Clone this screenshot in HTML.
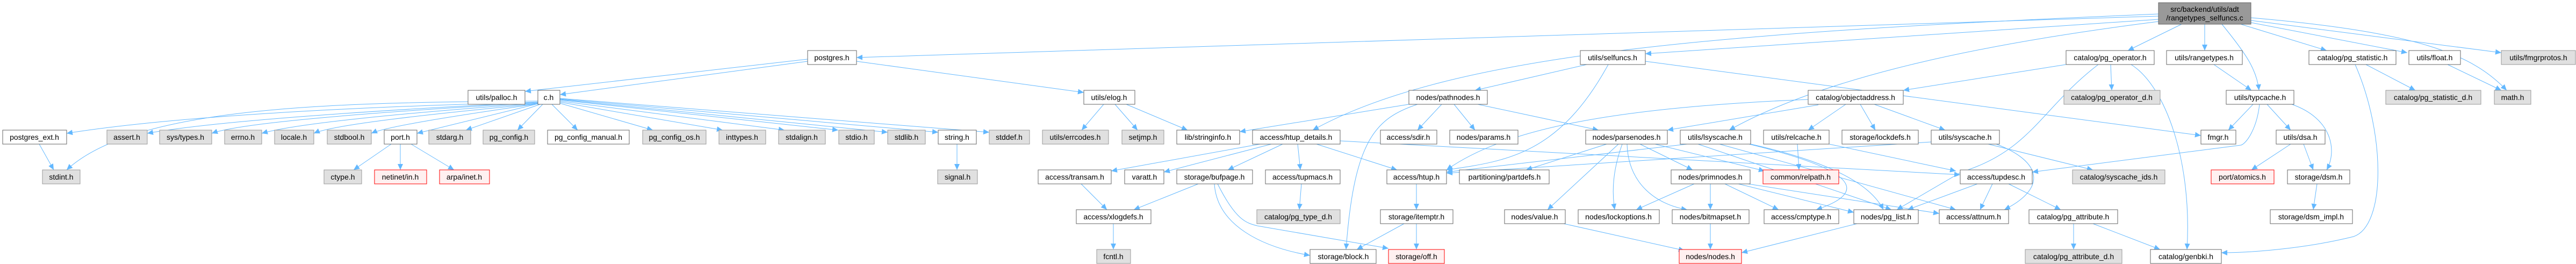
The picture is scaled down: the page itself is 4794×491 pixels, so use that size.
<!DOCTYPE html>
<html><head><meta charset="utf-8"><style>
html,body{margin:0;padding:0;background:#fff;}
svg{display:block;}
text{font-family:"Liberation Sans",sans-serif;font-size:14px;fill:#000;text-anchor:middle;}
.w{fill:#fff;stroke:#666;stroke-width:1;}
.g{fill:#e0e0e0;stroke:#999;stroke-width:1;}
.r{fill:#fff0f0;stroke:#f00;stroke-width:1;}
.e{fill:none;stroke:#63b8ff;stroke-width:1;marker-end:url(#a);}
</style></head><body>
<svg width="4794" height="491" viewBox="0 0 4794 491" xmlns="http://www.w3.org/2000/svg">
<defs><marker id="a" markerUnits="userSpaceOnUse" markerWidth="12" markerHeight="10" refX="11" refY="5" orient="auto"><path d="M0,0 L11,5 L0,10 z" fill="#63b8ff"/></marker></defs>
<g>
<path class="e" d="M4017,30 C3000,60 2200,90 1594,107"/>
<path class="e" d="M1503,110 L977,170"/>
<path class="e" d="M1503,114 L1042,176"/>
<path class="e" d="M1594,114 L2017,172"/>
<path class="e" d="M1001,188 C600,190 250,200 124,316"/>
<path class="e" d="M1001,190 C600,200 300,220 124,248"/>
<path class="e" d="M1001,190 C700,205 400,225 274,248"/>
<path class="e" d="M1001,191 C700,208 450,228 394,248"/>
<path class="e" d="M1001,192 C750,210 550,230 487,248"/>
<path class="e" d="M1001,193 C800,212 620,232 584,248"/>
<path class="e" d="M1001,193 C850,215 720,235 691,248"/>
<path class="e" d="M1001,193 L776,248"/>
<path class="e" d="M1005,194 L867,242"/>
<path class="e" d="M1010,194 L963,242"/>
<path class="e" d="M1027,194 L1075,242"/>
<path class="e" d="M1042,192 L1215,242"/>
<path class="e" d="M1042,190 L1345,242"/>
<path class="e" d="M1042,188 L1460,242"/>
<path class="e" d="M1042,186 L1560,242"/>
<path class="e" d="M1042,185 L1652,246"/>
<path class="e" d="M1042,184 L1746,246"/>
<path class="e" d="M1042,183 L1841,246"/>
<path class="e" d="M73,268 L100,316"/>
<path class="e" d="M728,268 L658,316"/>
<path class="e" d="M745,268 L745,316"/>
<path class="e" d="M765,268 L845,316"/>
<path class="e" d="M1781,268 L1781,316"/>
<path class="e" d="M2054,194 L2013,242"/>
<path class="e" d="M2075,194 L2117,242"/>
<path class="e" d="M2096,194 L2210,242"/>
<path class="e" d="M4017,26 C3200,60 2700,100 2443,242"/>
<path class="e" d="M2345,268 L2068,318"/>
<path class="e" d="M2366,268 L2166,320"/>
<path class="e" d="M2387,268 L2285,316"/>
<path class="e" d="M2415,268 L2420,316"/>
<path class="e" d="M2450,268 L2600,316"/>
<path class="e" d="M2494,262 L3648,325"/>
<path class="e" d="M2622,194 L2307,245"/>
<path class="e" d="M2012,342 L2060,390"/>
<path class="e" d="M2230,342 L2110,390"/>
<path class="e" d="M2072,416 L2072,464"/>
<path class="e" d="M2260,342 C2265,420 2350,460 2438,475"/>
<path class="e" d="M2266,342 C2300,410 2320,415 2340,420 L2584,462"/>
<path class="e" d="M2422,342 L2418,390"/>
<path class="e" d="M2636,342 L2636,390"/>
<path class="e" d="M2613,416 L2525,464"/>
<path class="e" d="M2636,416 L2636,464"/>
<path class="e" d="M4017,36 L3062,100"/>
<path class="e" d="M2953,120 L2745,168"/>
<path class="e" d="M2993,120 C2900,290 2800,300 2692,316"/>
<path class="e" d="M3062,114 L4096,252"/>
<path class="e" d="M2638,194 C2560,220 2520,260 2505,464"/>
<path class="e" d="M2683,194 L2638,242"/>
<path class="e" d="M2706,194 L2745,242"/>
<path class="e" d="M2750,194 L2975,242"/>
<path class="e" d="M3365,185 C3000,200 2800,240 2692,316"/>
<path class="e" d="M3384,195 L3103,242"/>
<path class="e" d="M4017,40 C3700,80 3400,140 3218,242"/>
<path class="e" d="M2990,268 L2840,316"/>
<path class="e" d="M3012,268 L2880,390"/>
<path class="e" d="M3019,268 C3000,320 3000,360 3005,390"/>
<path class="e" d="M3028,268 C3030,340 3080,380 3140,390"/>
<path class="e" d="M3052,268 L3150,316"/>
<path class="e" d="M3080,268 L3284,318"/>
<path class="e" d="M3140,268 L2692,320"/>
<path class="e" d="M3160,268 L3520,390"/>
<path class="e" d="M3200,268 L3640,390"/>
<path class="e" d="M3153,342 L3045,390"/>
<path class="e" d="M3183,342 L3183,390"/>
<path class="e" d="M3210,342 L3310,390"/>
<path class="e" d="M3235,342 L3450,395"/>
<path class="e" d="M3240,340 L3609,397"/>
<path class="e" d="M2910,416 L3135,466"/>
<path class="e" d="M3183,416 L3183,464"/>
<path class="e" d="M3456,416 L3241,470"/>
<path class="e" d="M4060,45 L3960,94"/>
<path class="e" d="M3845,120 L3542,168"/>
<path class="e" d="M3928,120 L3930,168"/>
<path class="e" d="M3905,120 C3800,200 3780,280 3650,320 L3530,390"/>
<path class="e" d="M3966,120 C4030,160 4080,300 4070,464"/>
<path class="e" d="M3435,194 L3365,242"/>
<path class="e" d="M3462,194 L3490,242"/>
<path class="e" d="M3488,194 L3620,242"/>
<path class="e" d="M3345,268 L3348,316"/>
<path class="e" d="M3404,268 L3640,318"/>
<path class="e" d="M3258,268 C3400,300 3480,340 3505,390"/>
<path class="e" d="M3255,268 C3470,320 3470,360 3380,390"/>
<path class="e" d="M3700,268 L3895,316"/>
<path class="e" d="M3715,268 C3800,300 3810,350 3730,390"/>
<path class="e" d="M3594,264 L2692,322"/>
<path class="e" d="M3680,342 L3550,390"/>
<path class="e" d="M3708,342 L3685,390"/>
<path class="e" d="M3738,342 L3835,390"/>
<path class="e" d="M3859,416 L3859,464"/>
<path class="e" d="M3895,416 L4020,464"/>
<path class="e" d="M4103,45 L4103,94"/>
<path class="e" d="M4120,120 L4190,168"/>
<path class="e" d="M4135,45 C4180,100 4200,130 4204,168"/>
<path class="e" d="M4193,194 L4147,242"/>
<path class="e" d="M4219,194 L4263,242"/>
<path class="e" d="M4265,194 C4340,220 4350,280 4330,316"/>
<path class="e" d="M4205,194 C4200,240 4180,268 4170,270 L3782,320"/>
<path class="e" d="M4263,268 L4190,316"/>
<path class="e" d="M4287,268 L4305,316"/>
<path class="e" d="M4312,342 L4305,390"/>
<path class="e" d="M4170,45 L4330,94"/>
<path class="e" d="M4403,120 L4495,168"/>
<path class="e" d="M4383,120 C4440,250 4440,420 4380,440 C4300,460 4200,470 4134,470"/>
<path class="e" d="M4189,42 L4480,98"/>
<path class="e" d="M4555,120 L4655,168"/>
<path class="e" d="M4189,33 C4500,60 4600,100 4665,168"/>
<path class="e" d="M4189,38 L4655,98"/>
</g>
<g>
<rect x="4017" y="5" width="172" height="40" fill="#999" stroke="#666"/>
<text x="4103" y="22">src/backend/utils/adt</text><text x="4103" y="38">/rangetypes_selfuncs.c</text>
<rect class="w" x="1503" y="94" width="91" height="26"/><text x="1548" y="112">postgres.h</text>
<rect class="w" x="2941" y="94" width="121" height="26"/><text x="3001" y="112">utils/selfuncs.h</text>
<rect class="w" x="3845" y="94" width="164" height="26"/><text x="3927" y="112">catalog/pg_operator.h</text>
<rect class="w" x="4032" y="94" width="141" height="26"/><text x="4102" y="112">utils/rangetypes.h</text>
<rect class="w" x="4297" y="94" width="162" height="26"/><text x="4378" y="112">catalog/pg_statistic.h</text>
<rect class="w" x="4483" y="94" width="96" height="26"/><text x="4531" y="112">utils/float.h</text>
<rect class="g" x="4655" y="94" width="138" height="26"/><text x="4724" y="112">utils/fmgrprotos.h</text>
<rect class="w" x="871" y="168" width="106" height="26"/><text x="924" y="186">utils/palloc.h</text>
<rect class="w" x="1001" y="168" width="41" height="26"/><text x="1021" y="186">c.h</text>
<rect class="w" x="2017" y="168" width="95" height="26"/><text x="2064" y="186">utils/elog.h</text>
<rect class="w" x="2622" y="168" width="146" height="26"/><text x="2695" y="186">nodes/pathnodes.h</text>
<rect class="w" x="3365" y="168" width="177" height="26"/><text x="3453" y="186">catalog/objectaddress.h</text>
<rect class="g" x="3841" y="168" width="179" height="26"/><text x="3930" y="186">catalog/pg_operator_d.h</text>
<rect class="w" x="4143" y="168" width="126" height="26"/><text x="4206" y="186">utils/typcache.h</text>
<rect class="g" x="4440" y="168" width="177" height="26"/><text x="4528" y="186">catalog/pg_statistic_d.h</text>
<rect class="g" x="4642" y="168" width="68" height="26"/><text x="4676" y="186">math.h</text>
<rect class="w" x="5" y="242" width="119" height="26"/><text x="64" y="260">postgres_ext.h</text>
<rect class="g" x="199" y="242" width="75" height="26"/><text x="236" y="260">assert.h</text>
<rect class="g" x="297" y="242" width="97" height="26"/><text x="345" y="260">sys/types.h</text>
<rect class="g" x="418" y="242" width="69" height="26"/><text x="452" y="260">errno.h</text>
<rect class="g" x="511" y="242" width="73" height="26"/><text x="547" y="260">locale.h</text>
<rect class="g" x="609" y="242" width="82" height="26"/><text x="650" y="260">stdbool.h</text>
<rect class="w" x="715" y="242" width="61" height="26"/><text x="745" y="260">port.h</text>
<rect class="g" x="798" y="242" width="78" height="26"/><text x="837" y="260">stdarg.h</text>
<rect class="g" x="899" y="242" width="96" height="26"/><text x="947" y="260">pg_config.h</text>
<rect class="w" x="1019" y="242" width="152" height="26"/><text x="1095" y="260">pg_config_manual.h</text>
<rect class="g" x="1196" y="242" width="118" height="26"/><text x="1255" y="260">pg_config_os.h</text>
<rect class="g" x="1338" y="242" width="87" height="26"/><text x="1381" y="260">inttypes.h</text>
<rect class="g" x="1449" y="242" width="87" height="26"/><text x="1492" y="260">stdalign.h</text>
<rect class="g" x="1561" y="242" width="66" height="26"/><text x="1594" y="260">stdio.h</text>
<rect class="g" x="1652" y="242" width="70" height="26"/><text x="1687" y="260">stdlib.h</text>
<rect class="w" x="1746" y="242" width="71" height="26"/><text x="1781" y="260">string.h</text>
<rect class="g" x="1841" y="242" width="75" height="26"/><text x="1878" y="260">stddef.h</text>
<rect class="g" x="1940" y="242" width="123" height="26"/><text x="2001" y="260">utils/errcodes.h</text>
<rect class="g" x="2088" y="242" width="78" height="26"/><text x="2127" y="260">setjmp.h</text>
<rect class="w" x="2190" y="242" width="117" height="26"/><text x="2248" y="260">lib/stringinfo.h</text>
<rect class="w" x="2331" y="242" width="163" height="26"/><text x="2412" y="260">access/htup_details.h</text>
<rect class="w" x="2569" y="242" width="105" height="26"/><text x="2621" y="260">access/sdir.h</text>
<rect class="w" x="2698" y="242" width="127" height="26"/><text x="2761" y="260">nodes/params.h</text>
<rect class="w" x="2951" y="242" width="152" height="26"/><text x="3027" y="260">nodes/parsenodes.h</text>
<rect class="w" x="3127" y="242" width="131" height="26"/><text x="3192" y="260">utils/lsyscache.h</text>
<rect class="w" x="3282" y="242" width="122" height="26"/><text x="3343" y="260">utils/relcache.h</text>
<rect class="w" x="3428" y="242" width="142" height="26"/><text x="3499" y="260">storage/lockdefs.h</text>
<rect class="w" x="3594" y="242" width="127" height="26"/><text x="3657" y="260">utils/syscache.h</text>
<rect class="w" x="4096" y="242" width="65" height="26"/><text x="4128" y="260">fmgr.h</text>
<rect class="w" x="4236" y="242" width="91" height="26"/><text x="4281" y="260">utils/dsa.h</text>
<rect class="g" x="79" y="316" width="70" height="26"/><text x="114" y="334">stdint.h</text>
<rect class="g" x="603" y="316" width="70" height="26"/><text x="638" y="334">ctype.h</text>
<rect class="r" x="697" y="316" width="97" height="26"/><text x="745" y="334">netinet/in.h</text>
<rect class="r" x="818" y="316" width="93" height="26"/><text x="864" y="334">arpa/inet.h</text>
<rect class="g" x="1745" y="316" width="74" height="26"/><text x="1782" y="334">signal.h</text>
<rect class="w" x="1932" y="316" width="136" height="26"/><text x="2000" y="334">access/transam.h</text>
<rect class="w" x="2093" y="316" width="73" height="26"/><text x="2130" y="334">varatt.h</text>
<rect class="w" x="2190" y="316" width="141" height="26"/><text x="2260" y="334">storage/bufpage.h</text>
<rect class="w" x="2355" y="316" width="139" height="26"/><text x="2424" y="334">access/tupmacs.h</text>
<rect class="w" x="2581" y="316" width="111" height="26"/><text x="2636" y="334">access/htup.h</text>
<rect class="w" x="2716" y="316" width="167" height="26"/><text x="2800" y="334">partitioning/partdefs.h</text>
<rect class="w" x="3110" y="316" width="147" height="26"/><text x="3183" y="334">nodes/primnodes.h</text>
<rect class="r" x="3281" y="316" width="141" height="26"/><text x="3351" y="334">common/relpath.h</text>
<rect class="w" x="3648" y="316" width="134" height="26"/><text x="3715" y="334">access/tupdesc.h</text>
<rect class="g" x="3857" y="316" width="172" height="26"/><text x="3943" y="334">catalog/syscache_ids.h</text>
<rect class="r" x="4115" y="316" width="117" height="26"/><text x="4173" y="334">port/atomics.h</text>
<rect class="w" x="4257" y="316" width="116" height="26"/><text x="4315" y="334">storage/dsm.h</text>
<rect class="w" x="2003" y="390" width="139" height="26"/><text x="2072" y="408">access/xlogdefs.h</text>
<rect class="g" x="2339" y="390" width="155" height="26"/><text x="2416" y="408">catalog/pg_type_d.h</text>
<rect class="w" x="2569" y="390" width="135" height="26"/><text x="2636" y="408">storage/itemptr.h</text>
<rect class="w" x="2800" y="390" width="113" height="26"/><text x="2856" y="408">nodes/value.h</text>
<rect class="w" x="2937" y="390" width="151" height="26"/><text x="3012" y="408">nodes/lockoptions.h</text>
<rect class="w" x="3112" y="390" width="143" height="26"/><text x="3183" y="408">nodes/bitmapset.h</text>
<rect class="w" x="3283" y="390" width="139" height="26"/><text x="3352" y="408">access/cmptype.h</text>
<rect class="w" x="3450" y="390" width="120" height="26"/><text x="3510" y="408">nodes/pg_list.h</text>
<rect class="w" x="3609" y="390" width="129" height="26"/><text x="3673" y="408">access/attnum.h</text>
<rect class="w" x="3776" y="390" width="165" height="26"/><text x="3858" y="408">catalog/pg_attribute.h</text>
<rect class="w" x="4225" y="390" width="153" height="26"/><text x="4301" y="408">storage/dsm_impl.h</text>
<rect class="g" x="2041" y="464" width="63" height="26"/><text x="2072" y="482">fcntl.h</text>
<rect class="w" x="2438" y="464" width="123" height="26"/><text x="2500" y="482">storage/block.h</text>
<rect class="r" x="2584" y="464" width="104" height="26"/><text x="2636" y="482">storage/off.h</text>
<rect class="r" x="3125" y="464" width="116" height="26"/><text x="3183" y="482">nodes/nodes.h</text>
<rect class="g" x="3769" y="464" width="180" height="26"/><text x="3859" y="482">catalog/pg_attribute_d.h</text>
<rect class="w" x="4002" y="464" width="132" height="26"/><text x="4068" y="482">catalog/genbki.h</text>
</g>
</svg>
</body></html>
